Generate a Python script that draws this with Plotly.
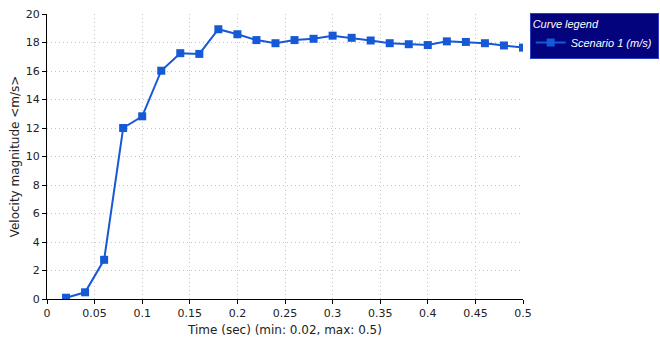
import plotly.graph_objects as go

# Velocity magnitude time history
time_sec = [0.02, 0.04, 0.06, 0.08, 0.10, 0.12, 0.14, 0.16, 0.18, 0.20,
            0.22, 0.24, 0.26, 0.28, 0.30, 0.32, 0.34, 0.36, 0.38, 0.40,
            0.42, 0.44, 0.46, 0.48, 0.50]
velocity = [0.09, 0.47, 2.75, 12.0, 12.82, 16.02, 17.25, 17.2, 18.93, 18.58,
            18.17, 17.95, 18.17, 18.26, 18.48, 18.33, 18.14, 17.95, 17.88, 17.82,
            18.08, 18.04, 17.95, 17.79, 17.64]

x_ticks = [0, 0.05, 0.1, 0.15, 0.2, 0.25, 0.3, 0.35, 0.4, 0.45, 0.5]
x_tick_text = ["0", "0.05", "0.1", "0.15", "0.2", "0.25", "0.3", "0.35", "0.4", "0.45", "0.5"]
y_ticks = [0, 2, 4, 6, 8, 10, 12, 14, 16, 18, 20]

font_family = "DejaVu Sans"
legend_font = "Liberation Sans"
line_color = "#1659d6"

fig = go.Figure()
fig.add_trace(go.Scatter(
    x=time_sec, y=velocity, mode="lines+markers",
    name="<i>Scenario 1 (m/s)</i>",
    line=dict(color=line_color, width=2),
    marker=dict(symbol="square", size=8, color=line_color),
))

axis_common = dict(
    showline=True, linecolor="black", linewidth=1,
    ticks="outside", ticklen=4, tickcolor="black",
    showgrid=True, gridcolor="#c4c4c4", griddash="1px,3px", gridwidth=1,
    zeroline=False, mirror=False,
    tickfont=dict(family=font_family, size=11, color="#222"),
)

fig.update_xaxes(
    range=[0, 0.5], tickvals=x_ticks, ticktext=x_tick_text,
    title=dict(text="Time (sec) (min: 0.02, max: 0.5)",
               font=dict(family=font_family, size=12, color="#222"), standoff=6),
    **axis_common,
)
fig.update_yaxes(
    range=[0, 20], tickvals=y_ticks,
    title=dict(text="Velocity magnitude &lt;m/s&gt;",
               font=dict(family=font_family, size=12, color="#222"), standoff=3),
    **axis_common,
)

fig.update_layout(
    width=660, height=340,
    margin=dict(l=47, r=137, t=14, b=41, autoexpand=False),
    plot_bgcolor="white", paper_bgcolor="white",
    showlegend=True,
    legend=dict(
        x=1.014, y=1.005, xanchor="left", yanchor="top",
        bgcolor="#03037e", bordercolor="#2b3fc4", borderwidth=1,
        font=dict(family=legend_font, size=11, color="white"),
        title=dict(text="<i>Curve legend</i>",
                   font=dict(family=legend_font, size=11, color="white")),
        itemwidth=30,
        tracegroupgap=0,
    ),
)

fig.write_html("out.html")
